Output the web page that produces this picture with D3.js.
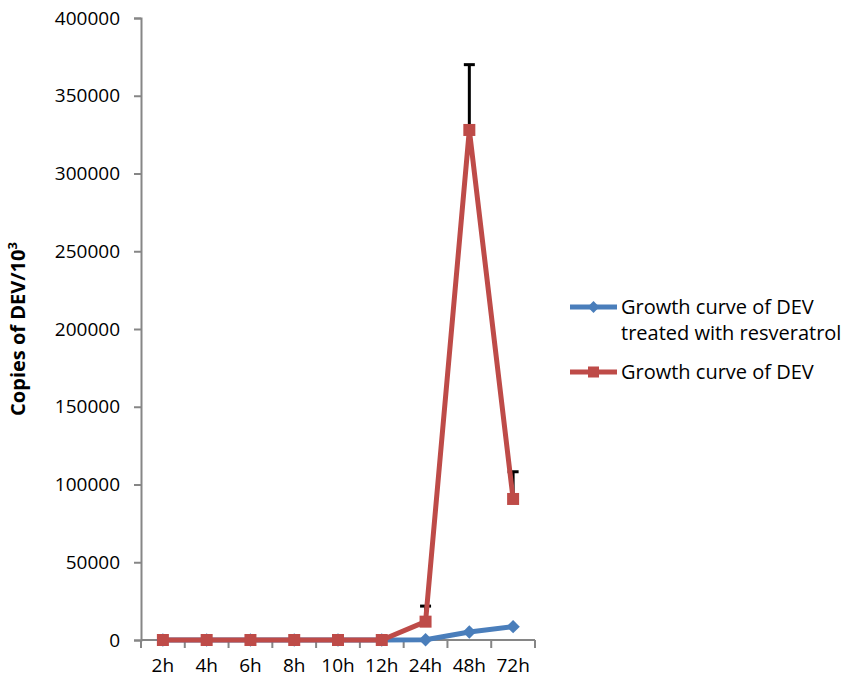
<!DOCTYPE html>
<html>
<head>
<meta charset="utf-8">
<script src="https://cdn.jsdelivr.net/npm/d3@7"></script>
<style>
  body { margin: 0; background: #fff; }
  text { font-family: "Open Sans", sans-serif; fill: #000; }
</style>
</head>
<body>
<svg id="chart"></svg>
<script>
// data
let times = ["2h", "4h", "6h", "8h", "10h", "12h", "24h", "48h", "72h"]
let resveratrol = [0, 0, 0, 0, 0, 0, 200, 5100, 8600]
let dev = [0, 0, 0, 0, 0, 0, 11800, 328000, 90700]
let devErr = [0, 0, 0, 0, 0, 0, 10000, 42000, 17500]
let yTicks = [0, 50000, 100000, 150000, 200000, 250000, 300000, 350000, 400000]
let seriesNames = ["Growth curve of DEV|treated with resveratrol", "Growth curve of DEV"]

let width = 842
let height = 687
let plotLeft = 141, plotRight = 535, plotTop = 18, plotBottom = 640

let svg = d3.select("#chart")
    .attr("width", width)
    .attr("height", height)

let xScale = d3.scalePoint()
    .domain(times)
    .range([plotLeft, plotRight])
    .padding(0.5)

let xBand = d3.scaleBand()
    .domain(times)
    .range([plotLeft, plotRight])

let yScale = d3.scaleLinear()
    .domain([0, 400000])
    .range([plotBottom, plotTop])

// y axis
let yAxis = svg.append("g")
    .attr("transform", `translate(${plotLeft}, 0)`)
    .call(d3.axisLeft(yScale).tickValues(yTicks).tickSize(7).tickPadding(14).tickFormat(d3.format("d")))
yAxis.select(".domain").attr("stroke", "#868686").attr("stroke-width", 2)
yAxis.selectAll(".tick line").attr("stroke", "#868686").attr("stroke-width", 2)
yAxis.selectAll("text").style("font-size", "19px").style("font-family", "'Open Sans', sans-serif")

// x axis: ticks between categories
let xAxis = svg.append("g")
    .attr("transform", `translate(0, ${plotBottom})`)
xAxis.append("line")
    .attr("x1", plotLeft).attr("x2", plotRight)
    .attr("stroke", "#868686").attr("stroke-width", 2)
xAxis.selectAll(".xt")
    .data(times.map(d => xBand(d)).concat([plotRight]))
    .enter().append("line")
    .attr("x1", d => d)
    .attr("x2", d => d)
    .attr("y1", 0).attr("y2", 8)
    .attr("stroke", "#868686").attr("stroke-width", 2)
xAxis.selectAll(".xl")
    .data(times)
    .enter().append("text")
    .attr("x", d => xScale(d))
    .attr("y", 32)
    .attr("text-anchor", "middle")
    .style("font-size", "19px")
    .text(d => d)

// axis title
svg.append("text")
    .attr("transform", `translate(25, ${(plotTop + plotBottom) / 2}) rotate(-90)`)
    .attr("text-anchor", "middle")
    .style("font-size", "20px")
    .style("font-weight", "bold")
    .html("Copies of DEV/10<tspan dy='-8' style='font-size:13px'>3</tspan>")

let line = d3.line()
    .x((d, i) => xScale(times[i]))
    .y(d => yScale(d))

let blue = "#4A7EBB", red = "#BE4B48"

// blue series
svg.append("path")
    .datum(resveratrol)
    .attr("d", line)
    .attr("fill", "none")
    .attr("stroke", blue)
    .attr("stroke-width", 5)
    .attr("stroke-linejoin", "round")

svg.selectAll(".diamond")
    .data(resveratrol)
    .enter().append("path")
    .attr("d", d3.symbol().type(d3.symbolSquare).size(90))
    .attr("transform", (d, i) => `translate(${xScale(times[i])}, ${yScale(d)}) rotate(45)`)
    .attr("fill", blue)

// red error bars (plus direction only)
let errData = dev.map((d, i) => ({ t: times[i], v: d, e: devErr[i] })).filter(d => d.e > 0)
let errs = svg.append("g")
errs.selectAll(".ebar")
    .data(errData)
    .enter().append("line")
    .attr("x1", d => xScale(d.t))
    .attr("x2", d => xScale(d.t))
    .attr("y1", d => yScale(d.v))
    .attr("y2", d => yScale(d.v + d.e))
    .attr("stroke", "#000").attr("stroke-width", 3)
errs.selectAll(".ecap")
    .data(errData)
    .enter().append("line")
    .attr("x1", d => xScale(d.t) - 5.5)
    .attr("x2", d => xScale(d.t) + 5.5)
    .attr("y1", d => yScale(d.v + d.e))
    .attr("y2", d => yScale(d.v + d.e))
    .attr("stroke", "#000").attr("stroke-width", 3)

// red series
svg.append("path")
    .datum(dev)
    .attr("d", line)
    .attr("fill", "none")
    .attr("stroke", red)
    .attr("stroke-width", 5)
    .attr("stroke-linejoin", "round")

svg.selectAll(".square")
    .data(dev)
    .enter().append("rect")
    .attr("x", (d, i) => xScale(times[i]) - 6)
    .attr("y", d => yScale(d) - 6)
    .attr("width", 12)
    .attr("height", 12)
    .attr("fill", red)

// legend
let legend = svg.append("g")
let legendY = [307, 372]
let colors = [blue, red]
seriesNames.forEach((name, i) => {
    let g = legend.append("g").attr("transform", `translate(570, ${legendY[i]})`)
    g.append("line").attr("x1", 0).attr("x2", 47).attr("stroke", colors[i]).attr("stroke-width", 5)
    if (i == 0) {
        g.append("path").attr("d", d3.symbol().type(d3.symbolSquare).size(70))
            .attr("transform", "translate(23.5,0) rotate(45)").attr("fill", colors[i])
    } else {
        g.append("rect").attr("x", 18).attr("y", -5.5).attr("width", 11).attr("height", 11).attr("fill", colors[i])
    }
    name.split("|").forEach((t, j) => {
        g.append("text")
            .attr("x", 51)
            .attr("y", j * 26)
            .attr("dy", "0.35em")
            .style("font-size", "20px")
            .text(t)
    })
})
</script>
</body>
</html>
